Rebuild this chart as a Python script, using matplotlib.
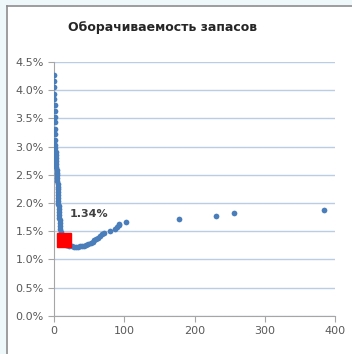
import matplotlib.pyplot as plt
from matplotlib.lines import Line2D
from matplotlib.ticker import FuncFormatter

# оборачиваемость (дни) и доля, %
days = [0.3, 0.4, 0.5, 0.6, 0.7, 0.8, 0.9, 1.0, 1.1, 1.2, 1.4, 1.5, 1.7, 1.8,
        2.2, 2.5, 2.7, 3.0, 3.3, 3.5, 3.8, 4.0, 4.3, 4.5, 4.8, 5.0, 5.2, 5.4,
        5.6, 5.8, 6.0, 6.2, 6.4, 6.6, 6.8, 7.0, 7.3, 7.6, 7.9, 8.2, 8.6, 9.0,
        9.5, 10.0, 10.6, 11.3, 12.0, 13.0, 14.5, 16.5, 19, 22, 25, 28, 31, 34,
        37, 40, 43, 46, 49, 52, 55, 57, 60, 63, 66, 69, 71, 80, 87, 90, 92, 93,
        103, 178, 231, 256, 384]
share = [4.27, 4.17, 4.06, 3.94, 3.84, 3.74, 3.63, 3.53, 3.43, 3.32, 3.22, 3.12,
         3.03, 2.97, 2.90, 2.85, 2.80, 2.74, 2.69, 2.64, 2.59, 2.54, 2.49, 2.44,
         2.39, 2.34, 2.29, 2.24, 2.19, 2.14, 2.09, 2.04, 1.99, 1.94, 1.89, 1.84,
         1.79, 1.74, 1.69, 1.64, 1.59, 1.54, 1.49, 1.44, 1.40, 1.36, 1.33, 1.30,
         1.28, 1.26, 1.25, 1.24, 1.23, 1.22, 1.22, 1.22, 1.23, 1.23, 1.24, 1.25,
         1.27, 1.29, 1.31, 1.34, 1.36, 1.38, 1.41, 1.45, 1.47, 1.50, 1.54, 1.58,
         1.61, 1.63, 1.66, 1.72, 1.77, 1.83, 1.87]

# выделенная точка
opt_day = 14
opt_share = 1.34

x_ticks = [0, 100, 200, 300, 400]
y_ticks = [0.0, 0.5, 1.0, 1.5, 2.0, 2.5, 3.0, 3.5, 4.0, 4.5]

fig = plt.figure(figsize=(3.52, 3.54), dpi=100)
fig.patch.set_facecolor('white')

# светлая полоса и рамка слева/сверху
fig.add_artist(plt.Rectangle((0, 0), 6 / 352, 1, transform=fig.transFigure,
                             facecolor='#eef8fa', edgecolor='none', zorder=-10))
fig.add_artist(plt.Rectangle((0, 1 - 5 / 354), 1, 5 / 354, transform=fig.transFigure,
                             facecolor='#eef8fa', edgecolor='none', zorder=-10))
fig.add_artist(Line2D([6.5 / 352, 6.5 / 352], [0, 1 - 5.5 / 354],
                      transform=fig.transFigure, color='#8c8c8c', linewidth=1.2))
fig.add_artist(Line2D([6.5 / 352, 1], [1 - 5.5 / 354, 1 - 5.5 / 354],
                      transform=fig.transFigure, color='#8c8c8c', linewidth=1.2))

ax = fig.add_axes([54 / 352, 1 - 315.7 / 354, (335 - 54) / 352, (315.7 - 62) / 354])
ax.set_facecolor('none')

ax.scatter(days, share, s=17, color='#4a7ebb', zorder=3, linewidths=0)
ax.plot([opt_day], [opt_share], marker='s', markersize=10, color='#ff0000',
        linestyle='none', zorder=4)
ax.annotate('{:.2f}%'.format(opt_share), (opt_day, opt_share),
            xytext=(4.5, 19), textcoords='offset points', fontsize=8,
            fontweight='bold', color='#404040', va='center', ha='left')

ax.set_xlim(0, 400)
ax.set_ylim(0, 4.5)
ax.set_xticks(x_ticks)
ax.set_yticks(y_ticks)
ax.yaxis.set_major_formatter(FuncFormatter(lambda v, p: '{:.1f}%'.format(v)))
ax.grid(axis='y', color='#b9cde5', linewidth=1.0)
ax.set_axisbelow(True)

for side in ['top', 'right']:
    ax.spines[side].set_visible(False)
for side in ['left', 'bottom']:
    ax.spines[side].set_color('#a6a6a6')
ax.tick_params(colors='#a6a6a6', labelcolor='#595959', labelsize=8, length=4)

fig.text(162 / 352, 1 - 27 / 354, 'Оборачиваемость запасов', fontsize=9,
         fontweight='bold', color='#262626', ha='center', va='center')

fig.savefig('out.png', dpi=100)
